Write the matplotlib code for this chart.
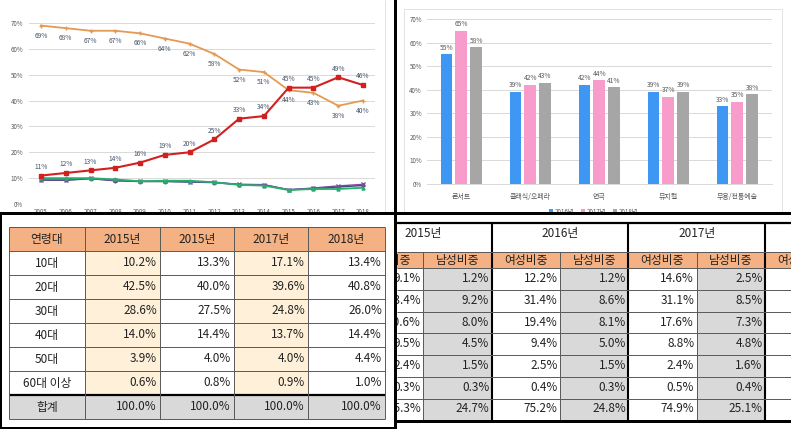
import numpy as np
import matplotlib.pyplot as plt
from matplotlib.patches import Rectangle

plt.rcParams['font.family'] = ['Noto Sans CJK KR', 'DejaVu Sans']

W, H = 791, 429

# 연도별 비중 추이 (꺾은선)
years = list(range(2005, 2019))
share_orange = [69, 68, 67, 67, 66, 64, 62, 58, 52, 51, 44, 43, 38, 40]
share_red = [11, 12, 13, 14, 16, 19, 20, 25, 33, 34, 45, 45, 49, 46]
share_navy = [9.2, 9.2, 9.8, 9.0, 8.7, 8.7, 8.5, 8.3, 7.5, 7.4, 5.5, 6.0, 6.6, 7.2]
share_purple = [9.3, 9.3, 9.9, 9.1, 8.8, 8.8, 8.6, 8.4, 7.6, 7.5, 5.5, 6.2, 7.0, 7.6]
share_green = [10.0, 10.0, 10.0, 9.5, 8.8, 9.0, 9.0, 8.4, 7.4, 7.1, 5.4, 5.8, 5.8, 6.3]

# 장르별 (막대)
genres = ['콘서트', '클래식/오페라', '연극', '뮤지컬', '무용/전통예술']
bar_years = ['2016년', '2017년', '2018년']
bar_2016 = [55, 39, 42, 39, 33]
bar_2017 = [65, 42, 44, 37, 35]
bar_2018 = [58, 43, 41, 39, 38]

# 연령대별 표
age_groups = ['10대', '20대', '30대', '40대', '50대', '60대 이상', '합계']
age_header = ['연령대', '2015년', '2015년', '2017년', '2018년']
age_a = [10.2, 42.5, 28.6, 14.0, 3.9, 0.6, 100.0]
age_b = [13.3, 40.0, 27.5, 14.4, 4.0, 0.8, 100.0]
age_c = [17.1, 39.6, 24.8, 13.7, 4.0, 0.9, 100.0]
age_d = [13.4, 40.8, 26.0, 14.4, 4.4, 1.0, 100.0]

# 성별 표
gender_years = ['2015년', '2016년', '2017년', '2018년']
gender_cols = ['여성비중', '남성비중']
female_2015 = [9.1, 33.4, 20.6, 9.5, 2.4, 0.3, 75.3]
male_2015 = [1.2, 9.2, 8.0, 4.5, 1.5, 0.3, 24.7]
female_2016 = [12.2, 31.4, 19.4, 9.4, 2.5, 0.4, 75.2]
male_2016 = [1.2, 8.6, 8.1, 5.0, 1.5, 0.3, 24.8]
female_2017 = [14.6, 31.1, 17.6, 8.8, 2.4, 0.5, 74.9]
male_2017 = [2.5, 8.5, 7.3, 4.8, 1.6, 0.4, 25.1]

fig = plt.figure(figsize=(W / 100, H / 100), dpi=100)


def px_axes(x0, y0, x1, y1, z):
    # 픽셀 좌표 축 (y는 아래로)
    ax = fig.add_axes([x0 / W, 1 - y1 / H, (x1 - x0) / W, (y1 - y0) / H], zorder=z)
    ax.set_xlim(x0, x1)
    ax.set_ylim(y1, y0)
    ax.axis('off')
    return ax


def box(ax, x, y, w, h, fc='none', ec='none', lw=0, z=1):
    ax.add_patch(Rectangle((x, y), w, h, facecolor=fc, edgecolor=ec, linewidth=lw, zorder=z))


def hline(ax, x0, x1, y, c='#7F7F7F', lw=0.7, z=3):
    ax.plot([x0, x1], [y, y], color=c, lw=lw, zorder=z, solid_capstyle='butt')


def vline(ax, x, y0, y1, c='#7F7F7F', lw=0.7, z=3):
    ax.plot([x, x], [y0, y1], color=c, lw=lw, zorder=z, solid_capstyle='butt')


# 배경 (차트 테두리)
bg = px_axes(0, 0, W, H, 0)
vline(bg, 385, 0, 212, c='#E3E3E3', lw=0.7)
box(bg, 404, 9, 378, 210, ec='#E3E3E3', lw=0.7)

# ---- 꺾은선 차트 ----
ax1 = fig.add_axes([28.6 / W, 1 - 204 / H, 346.8 / W, 181 / H], zorder=2)
ax1.set_facecolor('none')
ax1.plot(years, share_navy, color='#34496F', marker='o', ms=1.8, lw=1.1)
ax1.plot(years, share_purple, color='#7E4BA6', marker='x', ms=2.2, lw=1.0)
ax1.plot(years, share_green, color='#27AE6A', marker='^', ms=2.2, lw=1.3)
ax1.plot(years, share_orange, color='#E39A55', marker='+', ms=3, lw=1.3)
ax1.plot(years, share_red, color='#D21F1F', marker='s', ms=3.2, lw=1.5)
for x, v in zip(years, share_orange):
    ax1.annotate(f'{v}%', (x, v), xytext=(0, -7.3), textcoords='offset points',
                 ha='center', va='center', fontsize=4.8, color='#44546A')
for x, v in zip(years, share_red):
    ax1.annotate(f'{v}%', (x, v), xytext=(0, 6.3), textcoords='offset points',
                 ha='center', va='center', fontsize=4.8, color='#44546A')
ax1.set_xlim(2004.5, 2018.5)
ax1.set_ylim(0, 70)
ax1.set_yticks(range(0, 71, 10))
ax1.set_yticklabels([f'{v}%' for v in range(0, 71, 10)])
ax1.set_xticks(years)
ax1.tick_params(length=0, labelsize=4.5, labelcolor='#595959')
ax1.tick_params(axis='y', pad=4)
ax1.tick_params(axis='x', pad=3)
ax1.grid(axis='y', color='#D9D9D9', lw=0.7)
ax1.set_axisbelow(True)
for s in ax1.spines.values():
    s.set_visible(False)

# ---- 막대 차트 ----
ax2 = fig.add_axes([426.7 / W, 1 - 184 / H, 345 / W, 165 / H], zorder=2)
ax2.set_facecolor('none')
xs = np.arange(len(genres))
bar_colors = ['#3D97F3', '#F89CCB', '#A6A6A6']
for i, (vals, c, lab) in enumerate(zip([bar_2016, bar_2017, bar_2018], bar_colors, bar_years)):
    pos = xs + (i - 1) * 0.215
    ax2.bar(pos, vals, width=0.17, color=c, label=lab, zorder=2)
    for p, v in zip(pos, vals):
        ax2.text(p, v + 2.8, f'{v}%', ha='center', va='center', fontsize=4.8, color='#595959')
ax2.set_xlim(-0.5, 4.5)
ax2.set_ylim(0, 70)
ax2.set_yticks(range(0, 71, 10))
ax2.set_yticklabels([f'{v}%' for v in range(0, 71, 10)])
ax2.set_xticks(xs)
ax2.set_xticklabels(genres)
ax2.tick_params(length=0, labelsize=4.5, labelcolor='#595959')
ax2.tick_params(axis='y', pad=3.4)
ax2.tick_params(axis='x', pad=6.5, labelsize=5)
ax2.grid(axis='y', color='#D9D9D9', lw=0.7)
ax2.set_axisbelow(True)
for s in ax2.spines.values():
    s.set_visible(False)
ax2.spines['bottom'].set_visible(True)
ax2.spines['bottom'].set_color('#D9D9D9')
ax2.spines['bottom'].set_linewidth(0.7)
fig.legend(loc='center', bbox_to_anchor=(593.5 / W, 1 - 211.5 / H), ncol=3, frameon=False,
           fontsize=4.5, handlelength=0.7, handleheight=0.7, handletextpad=0.3,
           columnspacing=1.0, labelcolor='#595959')

# ---- 연령대 표 ----
axL = px_axes(0, 215, 394, 429, 5)
box(axL, 0, 215, 394, 214, fc='white', z=0)
col_x = [9, 85, 160, 234, 308, 385]
row_y = [227 + 24 * i for i in range(9)]
age_vals = [age_a, age_b, age_c, age_d]
for j, lab in enumerate(age_header):
    box(axL, col_x[j], row_y[0], col_x[j + 1] - col_x[j], row_y[1] - row_y[0], fc='#F4B183')
    axL.text((col_x[j] + col_x[j + 1]) / 2, (row_y[0] + row_y[1]) / 2, lab,
             ha='center', va='center', fontsize=8.5, color='#222222')
for i, grp in enumerate(age_groups):
    y0, y1 = row_y[i + 1], row_y[i + 2]
    total = i == len(age_groups) - 1
    if total:
        box(axL, col_x[0], y0, col_x[-1] - col_x[0], y1 - y0, fc='#D9D9D9')
    axL.text((col_x[0] + col_x[1]) / 2, (y0 + y1) / 2, grp, ha='center', va='center',
             fontsize=8.5, color='#222222')
    for j, vals in enumerate(age_vals):
        if not total and j in (0, 2):
            box(axL, col_x[j + 1], y0, col_x[j + 2] - col_x[j + 1], y1 - y0, fc='#FFF1D9')
        axL.text(col_x[j + 2] - 3, (y0 + y1) / 2, f'{vals[i]:.1f}%', ha='right', va='center',
                 fontsize=8.5, color='#222222')
for y in row_y:
    hline(axL, col_x[0], col_x[-1], y, c='#595959', lw=0.7)
hline(axL, col_x[0], col_x[-1], row_y[-2], c='black', lw=1.6)
for x in col_x:
    vline(axL, x, row_y[0], row_y[-1], c='#595959', lw=0.7)

# ---- 성별 표 ----
axR = px_axes(397, 215, W, 429, 5)
box(axR, 397, 215, W - 397, 214, fc='white', z=0)
cw = 68.33
gx0 = 355
ry = [223, 252, 268.3] + [268.3 + 21.7 * (i + 1) for i in range(7)]
gender_data = [(female_2015, male_2015), (female_2016, male_2016), (female_2017, male_2017)]
for g, yr in enumerate(gender_years):
    gx = gx0 + 2 * g * cw
    axR.text(gx + cw, 233, yr, ha='center', va='center', fontsize=8.5, color='#222222', clip_on=True)
    for k, lab in enumerate(gender_cols):
        cx = gx + k * cw
        box(axR, cx, ry[1], cw, ry[2] - ry[1], fc='#F4B183')
        axR.text(cx + cw / 2, (ry[1] + ry[2]) / 2, lab, ha='center', va='center',
                 fontsize=8.5, color='#222222', clip_on=True)
        if k == 1:
            box(axR, cx, ry[2], cw, ry[-1] - ry[2], fc='#D9D9D9')
        if g < len(gender_data):
            vals = gender_data[g][k]
            for i, v in enumerate(vals):
                axR.text(cx + cw - 2.5, (ry[i + 2] + ry[i + 3]) / 2 - 0.5, f'{v:.1f}%',
                         ha='right', va='center', fontsize=8.5, color='#222222', clip_on=True)
    vline(axR, gx, ry[0], ry[-1], c='black', lw=1.5)
    vline(axR, gx + cw, ry[1], ry[-1], c='#595959', lw=0.7)
for y in ry[1:]:
    hline(axR, 397, W, y, c='#595959', lw=0.7)
hline(axR, 397, W, ry[0], c='black', lw=1.6)

# ---- 검은 구분선 ----
ov = px_axes(0, 0, W, H, 10)
box(ov, 0, 212, W, 3, fc='black', z=5)
box(ov, 394, 0, 3, H, fc='black', z=5)
box(ov, 0, 215, 1.5, H - 215, fc='black', z=5)
box(ov, 0, 427, 397, 2, fc='black', z=5)
box(ov, 397, 420, W - 397, 2.5, fc='black', z=5)

fig.savefig('out.png', dpi=100)
